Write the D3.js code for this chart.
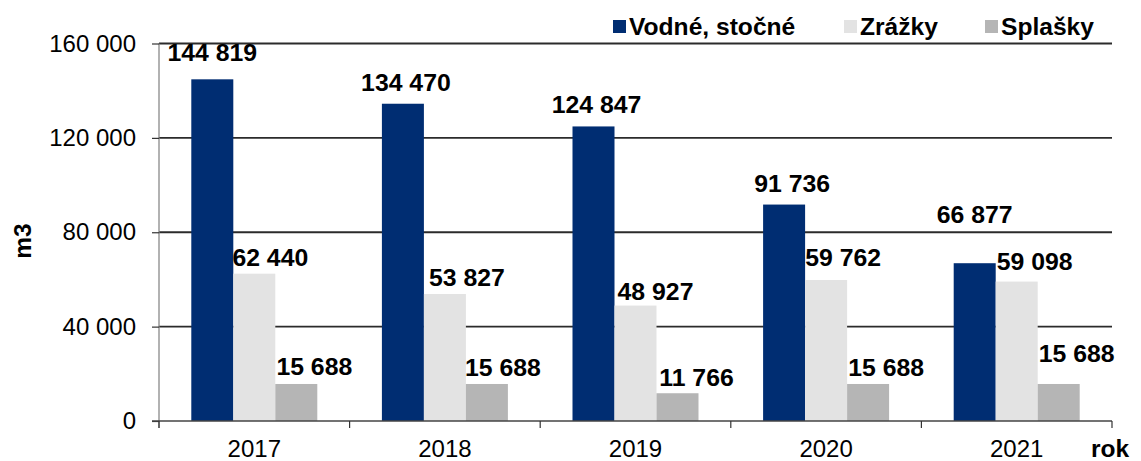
<!DOCTYPE html>
<html>
<head>
<meta charset="utf-8">
<script src="https://cdn.jsdelivr.net/npm/d3@7"></script>
<style>
  html, body { margin: 0; padding: 0; background: #fff; }
  svg { display: block; font-family: Arial, "Liberation Sans", sans-serif; }
</style>
</head>
<body>
<svg id="chart" width="1141" height="461"></svg>
<script>
// Roky a objemy (m3)
const years = ["2017", "2018", "2019", "2020", "2021"];
const seriesNames = ["Vodné, stočné", "Zrážky", "Splašky"];
const vodneStocne = [144819, 134470, 124847, 91736, 66877];
const zrazky = [62440, 53827, 48927, 59762, 59098];
const splasky = [15688, 15688, 11766, 15688, 15688];
const yTicks = [0, 40000, 80000, 120000, 160000];

const seriesValues = [vodneStocne, zrazky, splasky];
const colors = ["#002D72", "#E3E3E3", "#B5B5B5"];

// Posun popisiek hodnôt: [dx, medzera nad stĺpcom] v px
const labelNudge = [
  [[0, 18], [3, 13], [3, 13], [8, 13], [0, 40]],
  [[16, 8], [22, 8], [20, 6], [17, 14], [18, 12]],
  [[18, 9], [16, 8], [19, 7], [18, 8], [18, 22]]
];

const svg = d3.select("#chart");
const W = 1141, H = 461;
const margin = { left: 159, right: W - 1112, top: 43.5, bottom: H - 421 };

const x = d3.scaleBand().domain(years).range([margin.left, W - margin.right]).padding(0);
const groupW = 126;
const xs = d3.scaleBand().domain(seriesNames).range([0, groupW]).padding(0);
const y = d3.scaleLinear().domain([0, 160000]).range([H - margin.bottom, margin.top]);

const fmt = v => d3.format(",")(v).replace(/,/g, " ");

// mriežka
svg.append("g")
  .selectAll("line")
  .data(yTicks.filter(d => d > 0))
  .join("line")
  .attr("x1", margin.left).attr("x2", W - margin.right)
  .attr("y1", d => y(d)).attr("y2", d => y(d))
  .attr("stroke", "#2b2b2b").attr("stroke-width", 1.8);

// stĺpce
const groups = svg.append("g")
  .selectAll("g")
  .data(years)
  .join("g")
  .attr("transform", d => `translate(${x(d) + (x.bandwidth() - groupW) / 2},0)`);

groups.selectAll("rect")
  .data((d, i) => seriesNames.map((s, k) => ({ s, k, v: seriesValues[k][i] })))
  .join("rect")
  .attr("x", d => xs(d.s))
  .attr("width", xs.bandwidth())
  .attr("y", d => y(d.v))
  .attr("height", d => y(0) - y(d.v))
  .attr("fill", d => colors[d.k]);

// popisky hodnôt
groups.selectAll("text")
  .data((d, i) => seriesNames.map((s, k) => ({ s, k, i, v: seriesValues[k][i] })))
  .join("text")
  .attr("x", d => xs(d.s) + xs.bandwidth() / 2 + labelNudge[d.k][d.i][0])
  .attr("y", d => y(d.v) - labelNudge[d.k][d.i][1])
  .attr("text-anchor", "middle")
  .attr("font-size", 24.8)
  .attr("font-weight", "bold")
  .attr("fill", "#000")
  .text(d => fmt(d.v));

// os Y
const yAxis = svg.append("g").attr("transform", `translate(${margin.left},0)`)
  .call(d3.axisLeft(y).tickValues(yTicks).tickSize(7).tickPadding(16).tickFormat(fmt));
yAxis.select(".domain").attr("stroke", "#7f7f7f").attr("stroke-width", 1.2)
  .attr("d", `M0,${margin.top}V${H - margin.bottom + 7}`);
yAxis.selectAll(".tick line").attr("stroke", "#333").attr("stroke-width", 1.2);
yAxis.selectAll(".tick text").attr("font-size", 24).attr("fill", "#000")
  .attr("font-family", "Arial, 'Liberation Sans', sans-serif");

// os X
const xAxisG = svg.append("g");
xAxisG.append("line")
  .attr("x1", margin.left - 7).attr("x2", W - margin.right)
  .attr("y1", y(0)).attr("y2", y(0))
  .attr("stroke", "#444").attr("stroke-width", 1.5);
const bounds = years.map(d => x(d)).concat([x(years[years.length - 1]) + x.bandwidth()]);
xAxisG.selectAll("line.tk")
  .data(bounds)
  .join("line").attr("class", "tk")
  .attr("x1", d => d).attr("x2", d => d)
  .attr("y1", y(0)).attr("y2", y(0) + 7)
  .attr("stroke", "#333").attr("stroke-width", 1.2);
xAxisG.selectAll("text")
  .data(years)
  .join("text")
  .attr("x", d => x(d) + x.bandwidth() / 2)
  .attr("y", 457)
  .attr("text-anchor", "middle")
  .attr("font-size", 24)
  .text(d => d);

// názvy osí
svg.append("text")
  .attr("x", 1110).attr("y", 457)
  .attr("text-anchor", "middle")
  .attr("font-size", 24.5).attr("font-weight", "bold")
  .text("rok");
svg.append("text")
  .attr("transform", `translate(31,241) rotate(-90)`)
  .attr("text-anchor", "middle")
  .attr("font-size", 24.5).attr("font-weight", "bold")
  .text("m3");

// legenda
const legendX = [613, 844, 985];
const legend = svg.append("g")
  .selectAll("g")
  .data(seriesNames)
  .join("g")
  .attr("transform", (d, i) => `translate(${legendX[i]},0)`);
legend.append("rect")
  .attr("x", 0).attr("y", 20).attr("width", 13).attr("height", 13)
  .attr("fill", (d, i) => colors[i]);
legend.append("text")
  .attr("x", 16).attr("y", 35)
  .attr("font-size", 24.6).attr("font-weight", "bold")
  .text(d => d);
</script>
</body>
</html>
